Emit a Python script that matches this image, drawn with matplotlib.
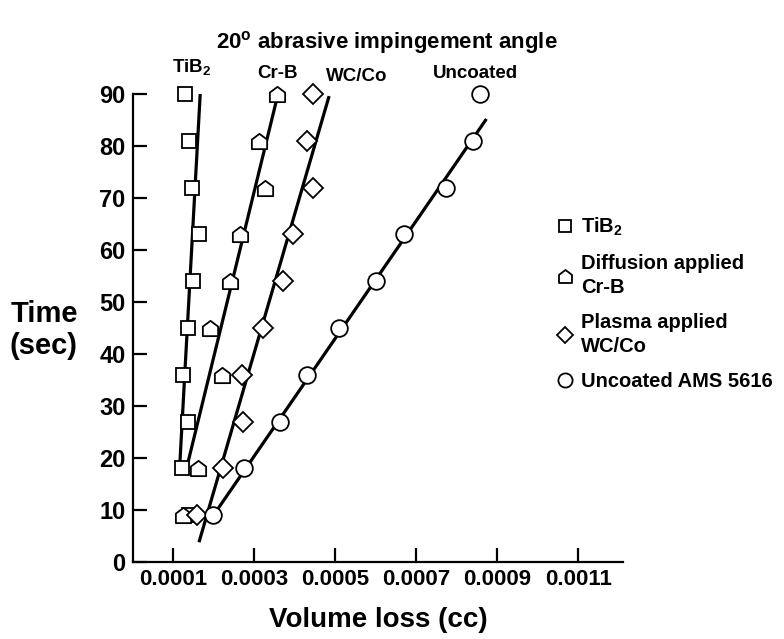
import matplotlib
matplotlib.use("Agg")
import matplotlib.pyplot as plt
from matplotlib.path import Path

plt.rcParams['font.family'] = ['Liberation Sans', 'DejaVu Sans']
plt.rcParams['font.weight'] = 'bold'
plt.rcParams['mathtext.fontset'] = 'custom'
plt.rcParams['mathtext.rm'] = 'Liberation Sans:bold'
plt.rcParams['mathtext.bf'] = 'Liberation Sans:bold'

# data
time_s = [9, 18, 27, 36, 45, 54, 63, 72, 81, 90]
time_crb = [9, 18, 36, 45, 54, 63, 72, 81, 90]

tib2_loss = [0.000140, 0.000122, 0.000137, 0.000125, 0.000137, 0.000149, 0.000164, 0.000147, 0.000140, 0.000130]
crb_loss = [0.000125, 0.000162, 0.000221, 0.000191, 0.000241, 0.000265, 0.000327, 0.000312, 0.000357]
wcco_loss = [0.000159, 0.000223, 0.000273, 0.000270, 0.000322, 0.000372, 0.000396, 0.000446, 0.000431, 0.000446]
unc_loss = [0.000199, 0.000275, 0.000364, 0.000431, 0.000510, 0.000601, 0.000670, 0.000774, 0.000841, 0.000858]

# hand drawn fit lines (end points)
tib2_fit = ([0.000117, 0.000167], [19.2, 90])
crb_fit = ([0.000137, 0.000359], [19.2, 90])
wcco_fit = ([0.000164, 0.000485], [3.8, 89.6])
unc_fit = ([0.000191, 0.000873], [8.0, 85.2])

xticks = [0.0001, 0.0003, 0.0005, 0.0007, 0.0009, 0.0011]
xlabels = ['0.0001', '0.0003', '0.0005', '0.0007', '0.0009', '0.0011']
yticks = [0, 10, 20, 30, 40, 50, 60, 70, 80, 90]

house = Path([(-1, -1), (1, -1), (1, 0.25), (0, 1), (-1, 0.25), (-1, -1)],
             [Path.MOVETO, Path.LINETO, Path.LINETO, Path.LINETO, Path.LINETO, Path.CLOSEPOLY])

fig = plt.figure(figsize=(7.84, 6.39), dpi=100)
ax = fig.add_axes([132.5/784, 1-562/639, (623-132.5)/784, (562-94)/639])

for fx, fy in [tib2_fit, crb_fit, wcco_fit, unc_fit]:
    ax.plot(fx, fy, color='black', lw=2.3, solid_capstyle='butt', clip_on=False, zorder=2)

mk = dict(linestyle='none', mfc='white', mec='black', mew=1.3, clip_on=False, zorder=3)
h1, = ax.plot(tib2_loss, time_s, marker='s', ms=10, **mk)
h2, = ax.plot(crb_loss, time_crb, marker=house, ms=11, **mk)
h3, = ax.plot(wcco_loss, time_s, marker='D', ms=10, **mk)
h4, = ax.plot(unc_loss, time_s, marker='o', ms=12, **mk)

ax.set_xlim(0, 0.00121)
ax.set_ylim(0, 90)
ax.set_xticks(xticks)
ax.set_xticklabels(xlabels, fontsize=16)
ax.set_yticks(yticks)
ax.set_yticklabels([str(v) for v in yticks], fontsize=17)
ax.tick_params(direction='in', length=10, width=1.6, pad=5)
ax.spines['top'].set_visible(False)
ax.spines['right'].set_visible(False)
ax.spines['left'].set_linewidth(1.6)
ax.spines['bottom'].set_linewidth(1.6)

# curve labels
ax.text(0.000147, 95, 'TiB$_2$', ha='center', va='center', fontsize=13.5)
ax.text(0.000357, 94, 'Cr-B', ha='center', va='center', fontsize=13.5)
ax.text(0.000552, 93.3, 'WC/Co', ha='center', va='center', fontsize=13.5)
ax.text(0.000846, 94, 'Uncoated', ha='center', va='center', fontsize=13.5)

fig.text(0.494, 0.933, '20$^\\mathbf{o}$ abrasive impingement angle', ha='center', va='center', fontsize=16)
fig.text(0.056, 0.484, 'Time\n(sec)', ha='center', va='center', fontsize=21, linespacing=1.2)
fig.text(0.483, 0.03, 'Volume loss (cc)', ha='center', va='center', fontsize=20)

leg = ax.legend([h1, h2, h3, h4],
                ['TiB$_2$', 'Diffusion applied\nCr-B', 'Plasma applied\nWC/Co', 'Uncoated AMS 5616'],
                loc='upper left', bbox_to_anchor=(546/784, 1-206/639), bbox_transform=fig.transFigure,
                frameon=False, fontsize=14.5, handlelength=0.9, handletextpad=0.35,
                labelspacing=0.8, borderpad=0, markerscale=0.85)
for t in leg.get_texts():
    t.set_linespacing(1.3)

fig.savefig('out.png', dpi=100)
